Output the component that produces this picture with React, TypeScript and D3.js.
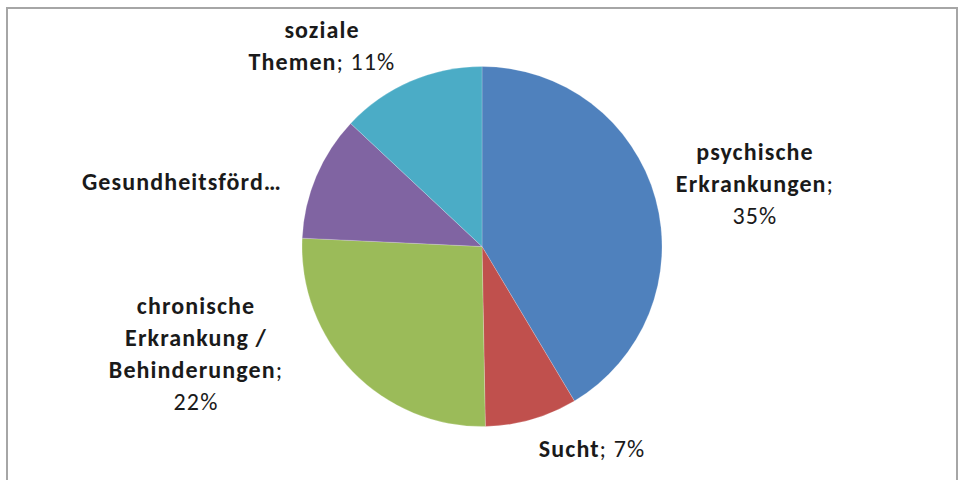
import * as d3 from 'd3';

// data
const categories = ['psychische Erkrankungen', 'Sucht', 'chronische Erkrankung / Behinderungen', 'Gesundheitsförderung', 'soziale Themen'];
const values = [35, 7, 22, 9.5, 11];
const pctLabels = ['35%', '7%', '22%', '', '11%'];
const colors = ['#4F81BD', '#C0504D', '#9BBB59', '#8064A2', '#4BACC6'];

// how each data label wraps: [bold part, regular part]
const labelLines: [string, string][][] = [
  [['psychische', ''], ['Erkrankungen', ';'], ['', pctLabels[0]]],
  [['Sucht', '; ' + pctLabels[1]]],
  [['chronische', ''], ['Erkrankung /', ''], ['Behinderungen', ';'], ['', pctLabels[2]]],
  [['Gesundheitsförd…', '']],
  [['soziale', ''], ['Themen', '; ' + pctLabels[4]]],
];

// label anchor (center x, first baseline) relative to pie centre
const labelOffsets = [
  { dx: 273, dy: -87 },
  { dx: 110, dy: 210 },
  { dx: -286, dy: 67 },
  { dx: -300, dy: -57 },
  { dx: -160, dy: -209 },
];

const W = 962, H = 480;
const cx = 482, cy = 246.5, R = 180;
const lineH = 32;
const font = 'Carlito, Calibri, Lato, sans-serif';

export default function App() {
  const pie = d3.pie<number>().sort(null).value(d => d);
  const arcs = pie(values);
  const arc = d3.arc<d3.PieArcDatum<number>>().innerRadius(0).outerRadius(R);

  return (
    <svg width={W} height={H} style={{ position: 'absolute', left: 0, top: 0, background: '#fff' }}>
      <rect x={0} y={0} width={W} height={H} fill="#fff" />
      {/* chart area frame, bottom edge is cut off */}
      <path d={`M7,${H} V8 H957 V${H}`} fill="none" stroke="#a6a6a6" strokeWidth={2} />
      <g transform={`translate(${cx},${cy})`}>
        {arcs.map((a, i) => (
          <path key={categories[i]} d={arc(a) || ''} fill={colors[i]} stroke="#fff" strokeWidth={0.5} strokeOpacity={0.4} />
        ))}
        {labelLines.map((lines, i) => (
          <text key={i} textAnchor="middle" fontFamily={font} fontSize={24} letterSpacing={1.1} fill="#1a1a1a">
            {lines.map((ln, j) => (
              <tspan key={j} x={labelOffsets[i].dx} y={labelOffsets[i].dy + j * lineH}>
                {ln[0] && <tspan fontWeight={800}>{ln[0]}</tspan>}
                {ln[1] && <tspan>{ln[1]}</tspan>}
              </tspan>
            ))}
          </text>
        ))}
      </g>
    </svg>
  );
}
